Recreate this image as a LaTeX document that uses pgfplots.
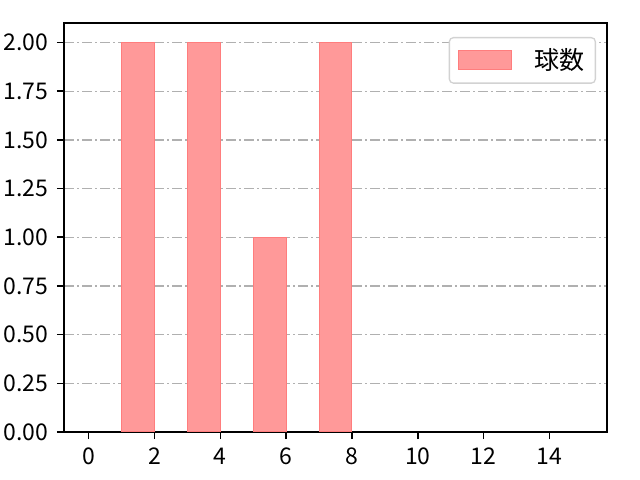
\documentclass[border=0pt]{standalone}
\usepackage{fontspec}
\setmainfont{Noto Sans CJK JP}
\usepackage{pgfplots}
\pgfplotsset{compat=1.18}
\definecolor{barfill}{RGB}{255,153,153}
\definecolor{baredge}{RGB}{255,125,125}
\definecolor{gridgray}{RGB}{176,176,176}
\begin{document}
\fontsize{23bp}{27bp}\selectfont
\begin{tikzpicture}
\useasboundingbox (-64bp,-48bp) rectangle (576bp,432bp);
\begin{axis}[
    scale only axis,
    width=543bp, height=409bp,
    xmin=-0.75, xmax=15.75,
    ymin=0, ymax=2.1,
    xtick={0,2,...,14},
    ytick={0,0.25,...,2},
    xtick pos=bottom, ytick pos=left,
    yticklabel style={xshift=-1bp,/pgf/number format/.cd,fixed,fixed zerofill,precision=2},
    /pgf/number format/assume math mode=true,
    tick align=outside,
    major tick length=7bp,
    tick style={line width=1.6bp,black},
    axis line style={line width=1.6bp},
    ymajorgrids=true,
    grid style={gridgray,line width=1.3bp,dash pattern=on 10bp off 3bp on 2bp off 3bp},
    ticklabel style={font=\fontsize{23bp}{27bp}\selectfont},
    xticklabel style={yshift=-1bp},
    legend style={at={(rel axis cs:1,1)},anchor=north east,xshift=-11bp,yshift=-14bp,
        draw=gray!35,rounded corners=4bp,line width=1.3bp,
        font=\fontsize{25bp}{29bp}\selectfont,
        inner xsep=9bp,inner ysep=8.5bp,
        legend cell align=left},
    legend image code/.code={\draw[#1,sharp corners,line width=1bp] (0bp,-9bp) rectangle (53bp,9.5bp);},
]
\addplot[ybar,bar width=1,bar shift=0.5,fill=barfill,draw=baredge,line width=1bp]
coordinates {(1,2) (3,2) (5,1) (7,2)};
\addlegendentry{\hspace{20bp}球数}
\end{axis}
\end{tikzpicture}
\end{document}
